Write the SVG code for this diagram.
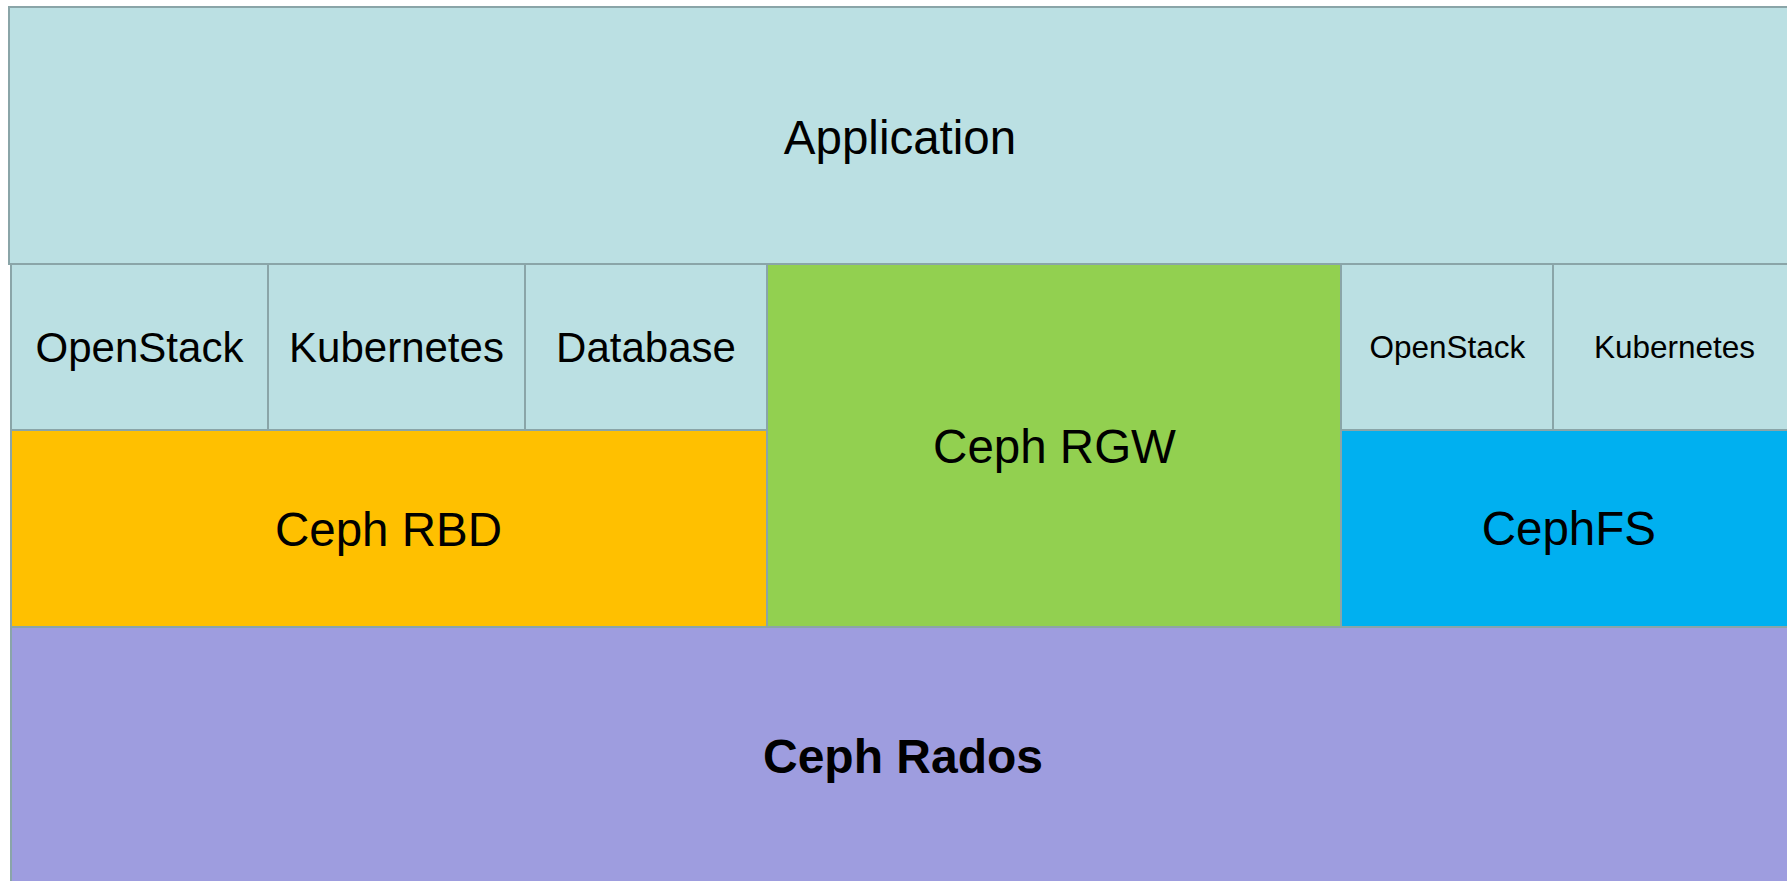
<svg xmlns="http://www.w3.org/2000/svg" width="1787" height="881" viewBox="0 0 1787 881">
<style>
.box{stroke:#8aa5a8;stroke-width:2}
.app{fill:#bbe0e3}
.rbd{fill:#ffc000}
.rgw{fill:#92d050}
.fs{fill:#00b0f0}
.rados{fill:#9e9ddf}
text{font-family:"Liberation Sans",Arial,sans-serif;fill:#000;text-anchor:middle}
.big{font-size:47.5px}
.mid{font-size:42px}
.sm{font-size:31.5px}
.bold{font-weight:bold;font-size:48px}
</style>
<g id="rados">
<rect class="box rados" x="11" y="627" width="1790" height="270"/>
<text class="bold" x="903" y="773">Ceph Rados</text>
</g>
<g id="application">
<rect class="box app" x="9" y="7" width="1790" height="257"/>
<text class="big" x="900" y="153.5">Application</text>
</g>
<g id="openstack1">
<rect class="box app" x="11" y="264" width="257" height="166"/>
<text class="mid" x="139.5" y="361.5">OpenStack</text>
</g>
<g id="kubernetes1">
<rect class="box app" x="268" y="264" width="257" height="166"/>
<text class="mid" x="396.5" y="361.5">Kubernetes</text>
</g>
<g id="database">
<rect class="box app" x="525" y="264" width="242" height="166"/>
<text class="mid" x="646" y="361.5">Database</text>
</g>
<g id="ceph-rbd">
<rect class="box rbd" x="11" y="430" width="756" height="197"/>
<text class="big" x="388.5" y="545.5">Ceph RBD</text>
</g>
<g id="ceph-rgw">
<rect class="box rgw" x="767" y="264" width="574" height="363"/>
<text class="big" x="1054.5" y="462.5">Ceph RGW</text>
</g>
<g id="openstack2">
<rect class="box app" x="1341" y="264" width="212" height="166"/>
<text class="sm" x="1447.3" y="358.3">OpenStack</text>
</g>
<g id="kubernetes2">
<rect class="box app" x="1553" y="264" width="243" height="166"/>
<text class="sm" x="1674.5" y="358.3">Kubernetes</text>
</g>
<g id="cephfs">
<rect class="box fs" x="1341" y="430" width="455" height="197"/>
<text class="big" x="1568.8" y="545">CephFS</text>
</g>
<g id="connectors"></g>
</svg>
